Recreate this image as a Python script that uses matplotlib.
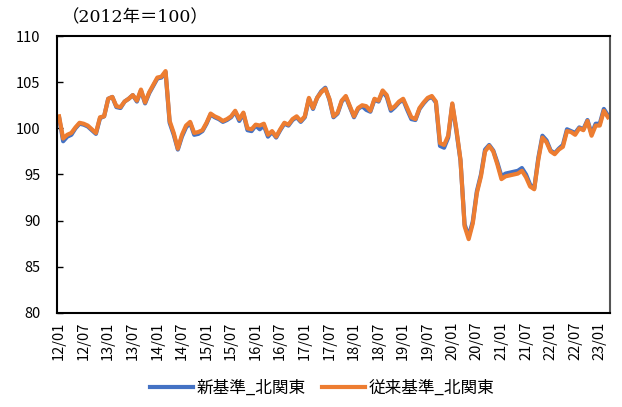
import numpy as np
import pandas as pd
import matplotlib
matplotlib.use("Agg")
import matplotlib.pyplot as plt

plt.rcParams['font.family'] = ['Noto Sans CJK JP', 'DejaVu Sans']

# monthly index, 2012/01 - 2023/03
months = pd.date_range("2012-01-01", periods=135, freq="MS")

orange_vals = [
    101.3, 98.9, 99.3, 99.5, 100.1, 100.6, 100.5, 100.3, 99.9, 99.5, 101.2, 101.3,
    103.2, 103.4, 102.4, 102.3, 102.9, 103.2, 103.6, 103.0, 104.2, 102.8, 103.9, 104.7,
    105.5, 105.6, 106.2, 100.8, 99.5, 97.8, 99.3, 100.3, 100.7, 99.5, 99.6, 99.8,
    100.6, 101.6, 101.3, 101.1, 100.8, 101.0, 101.3, 101.9, 101.0, 101.7, 100.0, 99.9,
    100.4, 100.3, 100.5, 99.3, 99.7, 99.1, 99.9, 100.6, 100.4, 101.0, 101.3, 100.8,
    101.3, 103.3, 102.2, 103.3, 103.9, 104.3, 103.2, 101.3, 101.7, 103.0, 103.5, 102.4,
    101.3, 102.2, 102.5, 102.4, 101.9, 103.2, 103.0, 104.1, 103.6, 102.1, 102.4, 102.9,
    103.2, 102.2, 101.2, 101.0, 102.2, 102.8, 103.3, 103.5, 102.9, 98.4, 98.2, 99.2,
    102.7, 99.9, 96.6, 89.4, 88.0, 89.7, 93.0, 94.8, 97.5, 98.1, 97.5, 96.1,
    94.5, 94.8, 94.9, 95.0, 95.1, 95.4, 94.7, 93.7, 93.4, 96.6, 99.0, 98.5,
    97.5, 97.2, 97.7, 98.0, 99.7, 99.6, 99.3, 100.0, 99.8, 100.8, 99.2, 100.3,
    100.3, 101.9, 101.2,
]

blue_vals = [
    101.2, 98.6, 99.1, 99.3, 100.0, 100.5, 100.4, 100.2, 99.8, 99.4, 101.1, 101.3,
    103.2, 103.4, 102.3, 102.2, 102.9, 103.2, 103.6, 102.9, 104.1, 102.7, 103.8, 104.6,
    105.4, 105.5, 106.1, 100.6, 99.3, 97.7, 99.1, 100.1, 100.6, 99.3, 99.4, 99.7,
    100.5, 101.5, 101.2, 101.0, 100.7, 100.9, 101.2, 101.8, 100.8, 101.6, 99.8, 99.7,
    100.3, 99.9, 100.3, 99.1, 99.6, 99.0, 99.8, 100.5, 100.3, 100.9, 101.2, 100.7,
    101.2, 103.2, 102.1, 103.3, 104.0, 104.4, 103.1, 101.2, 101.6, 102.9, 103.4, 102.3,
    101.2, 102.1, 102.4, 102.0, 101.8, 103.1, 102.9, 104.0, 103.4, 101.9, 102.3, 102.8,
    103.1, 102.0, 101.0, 100.9, 102.1, 102.7, 103.2, 103.4, 102.8, 98.1, 97.9, 99.0,
    102.6, 99.7, 96.5, 89.6, 88.3, 89.9, 93.2, 95.0, 97.7, 98.2, 97.6, 96.3,
    94.8, 95.1, 95.2, 95.3, 95.4, 95.7, 95.0, 93.9, 93.5, 96.8, 99.2, 98.7,
    97.6, 97.3, 97.8, 98.2, 99.9, 99.7, 99.5, 100.1, 99.9, 100.9, 99.4, 100.5,
    100.5, 102.1, 101.4,
]

tick_labels = [
    "12/01", "12/07", "13/01", "13/07", "14/01", "14/07", "15/01", "15/07",
    "16/01", "16/07", "17/01", "17/07", "18/01", "18/07", "19/01", "19/07",
    "20/01", "20/07", "21/01", "21/07", "22/01", "22/07", "23/01",
]

x = np.arange(len(months))
tick_pos = x[(months.month == 1) | (months.month == 7)]

fig = plt.figure(figsize=(6.22, 4.07), dpi=100)
ax = fig.add_axes([57 / 622, 1 - 313 / 407, (610 - 57) / 622, (313 - 36) / 407])

ax.plot(x, blue_vals, color="#4472C4", lw=3.0, solid_joinstyle="round", label="新基準_北関東")
ax.plot(x, orange_vals, color="#ED7D31", lw=3.0, solid_joinstyle="round", label="従来基準_北関東")

ax.set_xlim(-0.5, len(x) - 0.5)
ax.set_ylim(80, 110)
ax.set_yticks(np.arange(80, 111, 5))
ax.tick_params(axis="y", direction="in", length=4, width=1, pad=12, labelsize=10.5)
ax.set_xticks(tick_pos)
ax.set_xticklabels(tick_labels, rotation=90, fontsize=10.5)
ax.tick_params(axis="x", length=0, pad=6)

for s in ax.spines.values():
    s.set_linewidth(1.5)
    s.set_color("black")
ax.spines["right"].set_color("#555555")

fig.text(62 / 622, 1 - 18 / 407, "（2012年＝100）", fontsize=12.5,
         family=["DejaVu Serif", "Noto Sans CJK JP"], va="center", ha="left")

fig.legend(loc="center", bbox_to_anchor=(322 / 622, 1 - 388 / 407), ncol=2,
           frameon=False, fontsize=12, handlelength=2.6, columnspacing=1.0,
           handletextpad=0.2)

fig.savefig("out.png", dpi=100)
